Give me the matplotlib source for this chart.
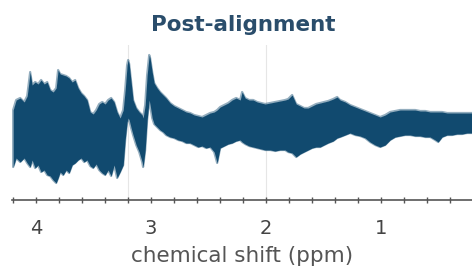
import matplotlib
matplotlib.use("Agg")
import matplotlib.pyplot as plt
from matplotlib.ticker import MultipleLocator

# envelope of the overlaid aligned spectra
# (pixel x, upper pixel y, lower pixel y)
px_x = [13, 16, 20, 24, 27, 30, 32, 35, 38, 41, 44, 47, 50, 53, 56, 58, 60, 63, 66, 69,
        72, 75, 78, 81, 84, 87, 90, 93, 96, 99, 102, 105, 108, 111, 114, 117, 120, 123, 125, 127,
        128, 129, 131, 133, 136, 139, 142, 143, 145, 147, 149, 150, 152, 154, 157, 160, 163, 166, 170, 174,
        178, 182, 186, 190, 194, 198, 202, 206, 210, 214, 217, 220, 224, 228, 232, 236, 240, 242, 245, 249,
        253, 257, 261, 265, 270, 275, 280, 285, 288, 292, 296, 300, 304, 308, 312, 316, 320, 324, 328, 333,
        337, 340, 345, 350, 355, 360, 365, 370, 375, 380, 385, 390, 395, 400, 405, 410, 415, 420, 425, 430,
        435, 438, 442, 447, 452, 457, 462, 467, 472]
px_up = [110, 100, 98, 102, 96, 72, 85, 82, 84, 80, 84, 82, 90, 92, 88, 70, 74, 75, 76, 78,
         82, 80, 88, 93, 96, 100, 112, 114, 110, 104, 102, 104, 100, 98, 102, 112, 118, 110, 90, 65,
         60, 64, 82, 100, 108, 112, 115, 118, 105, 75, 55, 58, 72, 83, 88, 92, 95, 98, 103, 106,
         108, 110, 112, 113, 115, 116, 117, 115, 113, 112, 110, 107, 105, 103, 100, 98, 100, 92, 98, 100,
         100, 102, 103, 104, 103, 102, 101, 100, 99, 95, 104, 106, 108, 108, 106, 104, 103, 102, 101, 99,
         97, 100, 102, 105, 107, 109, 111, 113, 115, 117, 115, 112, 111, 110, 110, 110, 110, 111, 111, 112,
         112, 112, 112, 113, 113, 113, 113, 113, 113]
px_lo = [167, 158, 162, 158, 163, 167, 160, 168, 165, 172, 170, 175, 176, 180, 183, 178, 172, 175, 170, 173,
         165, 163, 160, 158, 162, 160, 166, 168, 164, 170, 173, 175, 170, 176, 165, 178, 172, 165, 140, 122,
         118, 120, 128, 135, 145, 152, 162, 167, 150, 120, 100, 105, 118, 124, 127, 130, 132, 135, 137, 138,
         140, 141, 143, 143, 145, 147, 146, 148, 147, 152, 163, 148, 146, 144, 143, 141, 140, 142, 144, 146,
         147, 148, 149, 150, 150, 151, 150, 150, 152, 153, 157, 154, 152, 150, 148, 147, 147, 145, 143, 141,
         138, 137, 135, 133, 135, 136, 138, 142, 145, 147, 145, 140, 137, 136, 135, 135, 136, 136, 137, 137,
         140, 142, 137, 135, 135, 134, 134, 133, 133]

# convert to chemical shift (ppm) and intensity (a.u.)
ppm = [round(4 - (x - 36) / 115.0, 3) for x in px_x]
upper = [200 - y for y in px_up]
lower = [200 - y for y in px_lo]

ref_lines = [3.2, 2.0]
major_ticks = [4, 3, 2, 1]

W, H = 472, 272
fig = plt.figure(figsize=(W / 100, H / 100), dpi=100)
ax = fig.add_axes([12 / W, (H - 200) / H, (W - 12) / W, 155 / H])

for r in ref_lines:
    ax.axvline(r, color="#e6e6e6", lw=0.8, zorder=0)

col = "#114a6f"
ax.fill_between(ppm, lower, upper, color=col, lw=0, zorder=2)
ax.fill_between(ppm, lower, upper, facecolor="none", edgecolor=col, lw=1.6,
                alpha=0.45, zorder=2)

ax.set_xlim(4.21, 0.21)
ax.set_ylim(0, 155)
for s in ["left", "right", "top"]:
    ax.spines[s].set_visible(False)
ax.spines["bottom"].set_color("#555555")
ax.spines["bottom"].set_linewidth(1.2)
ax.set_yticks([])
ax.set_xticks(major_ticks)
ax.set_xticklabels([str(t) for t in major_ticks])
ax.xaxis.set_minor_locator(MultipleLocator(0.2))
ax.tick_params(axis="x", which="both", direction="inout", length=5, width=1,
               color="#555555", labelcolor="#444444", labelsize=14, pad=11,
               labelfontfamily="DejaVu Sans")
ax.tick_params(axis="x", which="minor", length=4)
ax.set_xlabel("chemical shift (ppm)", fontsize=15.5, color="#555555",
              family="DejaVu Sans", labelpad=6)
ax.patch.set_alpha(0)

fig.text(243 / W, 1 - 25 / H, "Post-alignment", ha="center", va="center",
         fontsize=15.5, fontweight="bold", color="#2a4d6b", family="DejaVu Sans")

fig.savefig("out.png", dpi=100)
